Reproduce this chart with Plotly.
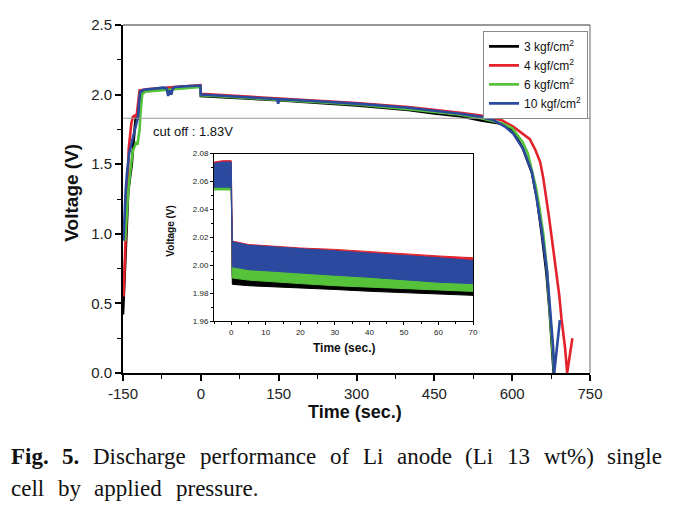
import plotly.graph_objects as go

# ---------------- data ----------------
series_names = ["3 kgf/cm<sup>2</sup>", "4 kgf/cm<sup>2</sup>", "6 kgf/cm<sup>2</sup>", "10 kgf/cm<sup>2</sup>"]
series_colors = ["#000000", "#e3222b", "#55c23a", "#2b4a9f"]

t_black = [-150, -148, -146, -143, -140, -136, -133, -130, -127, -125, -122, -120, -117, -100, -70, -40, -1, 0,
           50, 150, 300, 400, 450, 500, 540, 580, 600, 620, 638, 648, 657, 666, 672, 677, 680]
v_black = [0.42, 0.60, 0.72, 1.02, 1.30, 1.42, 1.50, 1.65, 1.78, 1.85, 1.82, 1.90, 2.02, 2.035, 2.045, 2.055, 2.06, 1.99,
           1.98, 1.96, 1.922, 1.89, 1.865, 1.845, 1.815, 1.79, 1.75, 1.62, 1.44, 1.25, 1.00, 0.72, 0.45, 0.20, 0.0]

t_red = [-149, -147, -145, -142, -139, -134, -131, -127, -124, -121, -118, -100, -70, -40, -1, 0,
         50, 150, 300, 400, 450, 500, 540, 580, 602, 620, 634, 645, 654, 660, 666, 671, 676, 681, 686, 691,
         695, 702, 706, 711, 716]
v_red = [0.55, 0.72, 0.89, 1.26, 1.61, 1.79, 1.84, 1.85, 1.84, 1.95, 2.03, 2.04, 2.05, 2.06, 2.068, 2.005,
         1.995, 1.975, 1.94, 1.91, 1.892, 1.87, 1.85, 1.815, 1.77, 1.72, 1.68, 1.60, 1.515, 1.40, 1.26, 1.12,
         0.98, 0.84, 0.70, 0.55, 0.39, 0.18, 0.0, 0.12, 0.25]

t_green = [-146, -143, -140, -136, -131, -127, -124, -122, -120, -118, -116, -113, -108, -80, -40, -1, 0,
           50, 150, 300, 400, 450, 500, 540, 580, 600, 620, 630, 640, 646, 652, 660, 667, 673, 678, 681]
v_green = [0.95, 1.15, 1.30, 1.45, 1.60, 1.63, 1.66, 1.64, 1.70, 1.75, 1.88, 2.00, 2.02, 2.03, 2.045, 2.055, 1.995,
           1.985, 1.965, 1.93, 1.895, 1.875, 1.855, 1.83, 1.795, 1.76, 1.66, 1.58, 1.42, 1.33, 1.20, 1.00, 0.74,
           0.45, 0.20, 0.0]

t_blue = [-149, -147, -145, -142, -138, -133, -128, -124, -121, -119, -117, -110, -90, -72, -66, -63, -60, -57,
          -54, -50, -30, -1, 0, 50, 100, 147, 149, 151, 200, 300, 400, 450, 500, 540, 565, 586, 602, 621, 638,
          647, 657, 667, 673, 679, 681, 686, 692]
v_blue = [0.95, 1.15, 1.30, 1.45, 1.58, 1.66, 1.73, 1.79, 1.84, 1.95, 2.02, 2.035, 2.045, 2.05, 2.045, 1.99, 2.03,
          2.00, 2.045, 2.055, 2.06, 2.065, 2.00, 1.99, 1.978, 1.968, 1.935, 1.967, 1.958, 1.935, 1.905, 1.885,
          1.862, 1.84, 1.815, 1.77, 1.72, 1.61, 1.445, 1.26, 1.02, 0.74, 0.46, 0.18, 0.0, 0.18, 0.38]

cutoff_voltage = 1.83
cutoff_label = "cut off : 1.83V"

# inset: upper / lower envelopes of each noisy band
inset_t = [-5, -2.5, 0, 0.3, 5, 10, 20, 30, 40, 50, 60, 70]
black_hi = [2.057, 2.057, 2.057, 1.992, 1.990, 1.989, 1.9875, 1.986, 1.985, 1.984, 1.983, 1.982]
black_lo = [2.055, 2.055, 2.055, 1.9865, 1.9855, 1.985, 1.9838, 1.9828, 1.9815, 1.9805, 1.9795, 1.9786]
red_hi = [2.074, 2.075, 2.075, 2.0175, 2.015, 2.014, 2.0125, 2.0115, 2.0098, 2.0082, 2.0068, 2.0055]
red_lo = [2.058, 2.058, 2.058, 2.000, 1.998, 1.997, 1.996, 1.995, 1.994, 1.993, 1.992, 1.991]
green_hi = [2.058, 2.058, 2.058, 2.002, 2.000, 1.999, 1.997, 1.996, 1.994, 1.993, 1.991, 1.989]
green_lo = [2.054, 2.054, 2.054, 1.991, 1.9895, 1.9885, 1.987, 1.9855, 1.9845, 1.9833, 1.9823, 1.9814]
blue_hi = [2.073, 2.074, 2.074, 2.017, 2.0145, 2.0135, 2.012, 2.0105, 2.009, 2.0075, 2.0055, 2.0035]
blue_lo = [2.056, 2.056, 2.056, 1.999, 1.997, 1.996, 1.9945, 1.993, 1.9915, 1.990, 1.988, 1.987]

main_xticks = [-150, 0, 150, 300, 450, 600, 750]
main_xticklabels = ["-150", "0", "150", "300", "450", "600", "750"]
main_yticks = [0.0, 0.5, 1.0, 1.5, 2.0, 2.5]
inset_xticks = [0, 10, 20, 30, 40, 50, 60, 70]
inset_yticks = [1.96, 1.98, 2.00, 2.02, 2.04, 2.06, 2.08]

caption_line1 = [("<b>Fig.</b>", 1.639), ("<b>5.</b>", 0.75), ("Discharge", 4.054), ("performance", 5.053),
                 ("of", 0.833), ("Li", 0.889), ("anode", 2.388), ("(Li", 1.222), ("13", 1.0),
                 ("wt%)", 2.166), ("single", 2.389)]
caption_line2 = [("cell", 1.444), ("by", 1.0), ("applied", 2.944), ("pressure.", 3.582)]

# ---------------- layout geometry ----------------
OFF = 8                      # page body margin of the html page
W, H = 677 - OFF, 508 - OFF
SL, SR, ST, SB = 123, 590, 16, 373   # main plot area in screen pixels
L, R, T, B = SL - OFF, SR - OFF, ST - OFF, SB - OFF


def px(xs):
    return (xs - OFF - L) / (R - L)


def py(ys):
    return (B - (ys - OFF)) / (B - T)


fig = go.Figure()

main_data = [(t_black, v_black), (t_red, v_red), (t_green, v_green), (t_blue, v_blue)]
for (tt, vv), name, col in zip(main_data, series_names, series_colors):
    fig.add_trace(go.Scatter(x=tt, y=vv, mode="lines", name=name,
                             line=dict(color=col, width=2.6), xaxis="x", yaxis="y"))

# cutoff line
fig.add_trace(go.Scatter(x=[-150, 750], y=[cutoff_voltage, cutoff_voltage], mode="lines",
                         line=dict(color="#9a9a9a", width=1.1), showlegend=False, hoverinfo="skip"))

# inset bands
bands = [(black_hi, black_lo, series_colors[0]), (green_hi, green_lo, series_colors[2]),
         (red_hi, red_lo, series_colors[1]), (blue_hi, blue_lo, series_colors[3])]
for hi, lo, col in bands:
    fig.add_trace(go.Scatter(x=inset_t + inset_t[::-1], y=hi + lo[::-1], mode="lines", fill="toself",
                             fillcolor=col, line=dict(color=col, width=1), showlegend=False,
                             xaxis="x2", yaxis="y2", hoverinfo="skip"))

tickfont = dict(family="Liberation Sans, Arial", size=15, color="#222")
inset_font = dict(family="Liberation Sans, Arial", size=8, color="#222")

fig.update_layout(
    width=W, height=H,
    margin=dict(l=L, r=W - R, t=T, b=H - B, pad=0),
    paper_bgcolor="white", plot_bgcolor="white",
    showlegend=True,
    legend=dict(x=px(483), y=py(22), xanchor="left", yanchor="top",
                bgcolor="white", bordercolor="#8a8a8a", borderwidth=1,
                font=dict(family="Liberation Sans, Arial", size=12, color="#111"),
                tracegroupgap=0, itemwidth=30),
    xaxis=dict(domain=[0, 1], range=[-150, 750], tickvals=main_xticks, ticktext=main_xticklabels,
               ticks="outside", ticklen=6, tickwidth=1.5, tickcolor="#000",
               minor=dict(dtick=75, tick0=-150, ticks="outside", ticklen=4, tickcolor="#000", tickwidth=1.2),
               showline=True, linecolor="#000", linewidth=2, showgrid=False, zeroline=False,
               tickfont=tickfont, anchor="y"),
    yaxis=dict(domain=[0, 1], range=[0, 2.5], tickvals=main_yticks, tickformat=".1f",
               ticks="outside", ticklen=6, tickwidth=1.5, tickcolor="#000",
               minor=dict(dtick=0.25, tick0=0, ticks="outside", ticklen=4, tickcolor="#000", tickwidth=1.2),
               showline=True, linecolor="#000", linewidth=2, showgrid=False, zeroline=False,
               tickfont=tickfont, anchor="x"),
    xaxis2=dict(domain=[px(214), px(473)], range=[-5, 70], tickvals=inset_xticks,
                ticks="outside", ticklen=3, tickcolor="#000",
                minor=dict(dtick=5, tick0=0, ticks="outside", ticklen=2, tickcolor="#000"),
                showline=True, mirror=True, linecolor="#000", linewidth=1, showgrid=False, zeroline=False,
                tickfont=inset_font, anchor="y2"),
    yaxis2=dict(domain=[py(320), py(148)], range=[1.96, 2.08], tickvals=inset_yticks, tickformat=".2f",
                ticks="outside", ticklen=3, tickcolor="#000",
                minor=dict(dtick=0.01, tick0=1.96, ticks="outside", ticklen=2, tickcolor="#000"),
                showline=True, mirror=True, linecolor="#000", linewidth=1, showgrid=False, zeroline=False,
                tickfont=inset_font, anchor="x2"),
)

# thin top/right frame of the main plot
fig.add_shape(type="line", xref="paper", yref="paper", x0=0, x1=1, y0=1, y1=1,
              line=dict(color="#333", width=1))
fig.add_shape(type="line", xref="paper", yref="paper", x0=1, x1=1, y0=0, y1=1,
              line=dict(color="#666", width=1))

ann = []
sans = "Liberation Sans, Arial"


def label(text, xs, ys, size, angle=0, xanchor="center", family=sans):
    return dict(text=text, x=px(xs), y=py(ys), xref="paper", yref="paper", textangle=angle,
                xanchor=xanchor, yanchor="middle", showarrow=False, borderpad=0,
                font=dict(family=family, size=size, color="#111"))


ann.append(label("<b>Voltage (V)</b>", 72, 188, 19, angle=-90))
ann.append(label("<b>Time (sec.)</b>", 355, 413, 18))
ann.append(label(cutoff_label, 152, 125, 13, xanchor="left"))
ann.append(label("<b>Voltage (V)</b>", 171, 228, 10, angle=-90))
ann.append(label("<b>Time (sec.)</b>", 344, 347, 12))

# justified caption, placed word by word
cap_size = 23
serif = "Liberation Serif, Times New Roman"
left_px, right_px = 10, 661
total = sum(w for _, w in caption_line1) * cap_size
gap = (right_px - left_px - total) / (len(caption_line1) - 1)
xcur = left_px
for word, w in caption_line1:
    ann.append(label(word, xcur, 459, cap_size, xanchor="left", family=serif))
    xcur += w * cap_size + gap
xcur = left_px
for word, w in caption_line2:
    ann.append(label(word, xcur, 491, cap_size, xanchor="left", family=serif))
    xcur += w * cap_size + gap

fig.update_layout(annotations=ann)
fig.write_html("out.html")
